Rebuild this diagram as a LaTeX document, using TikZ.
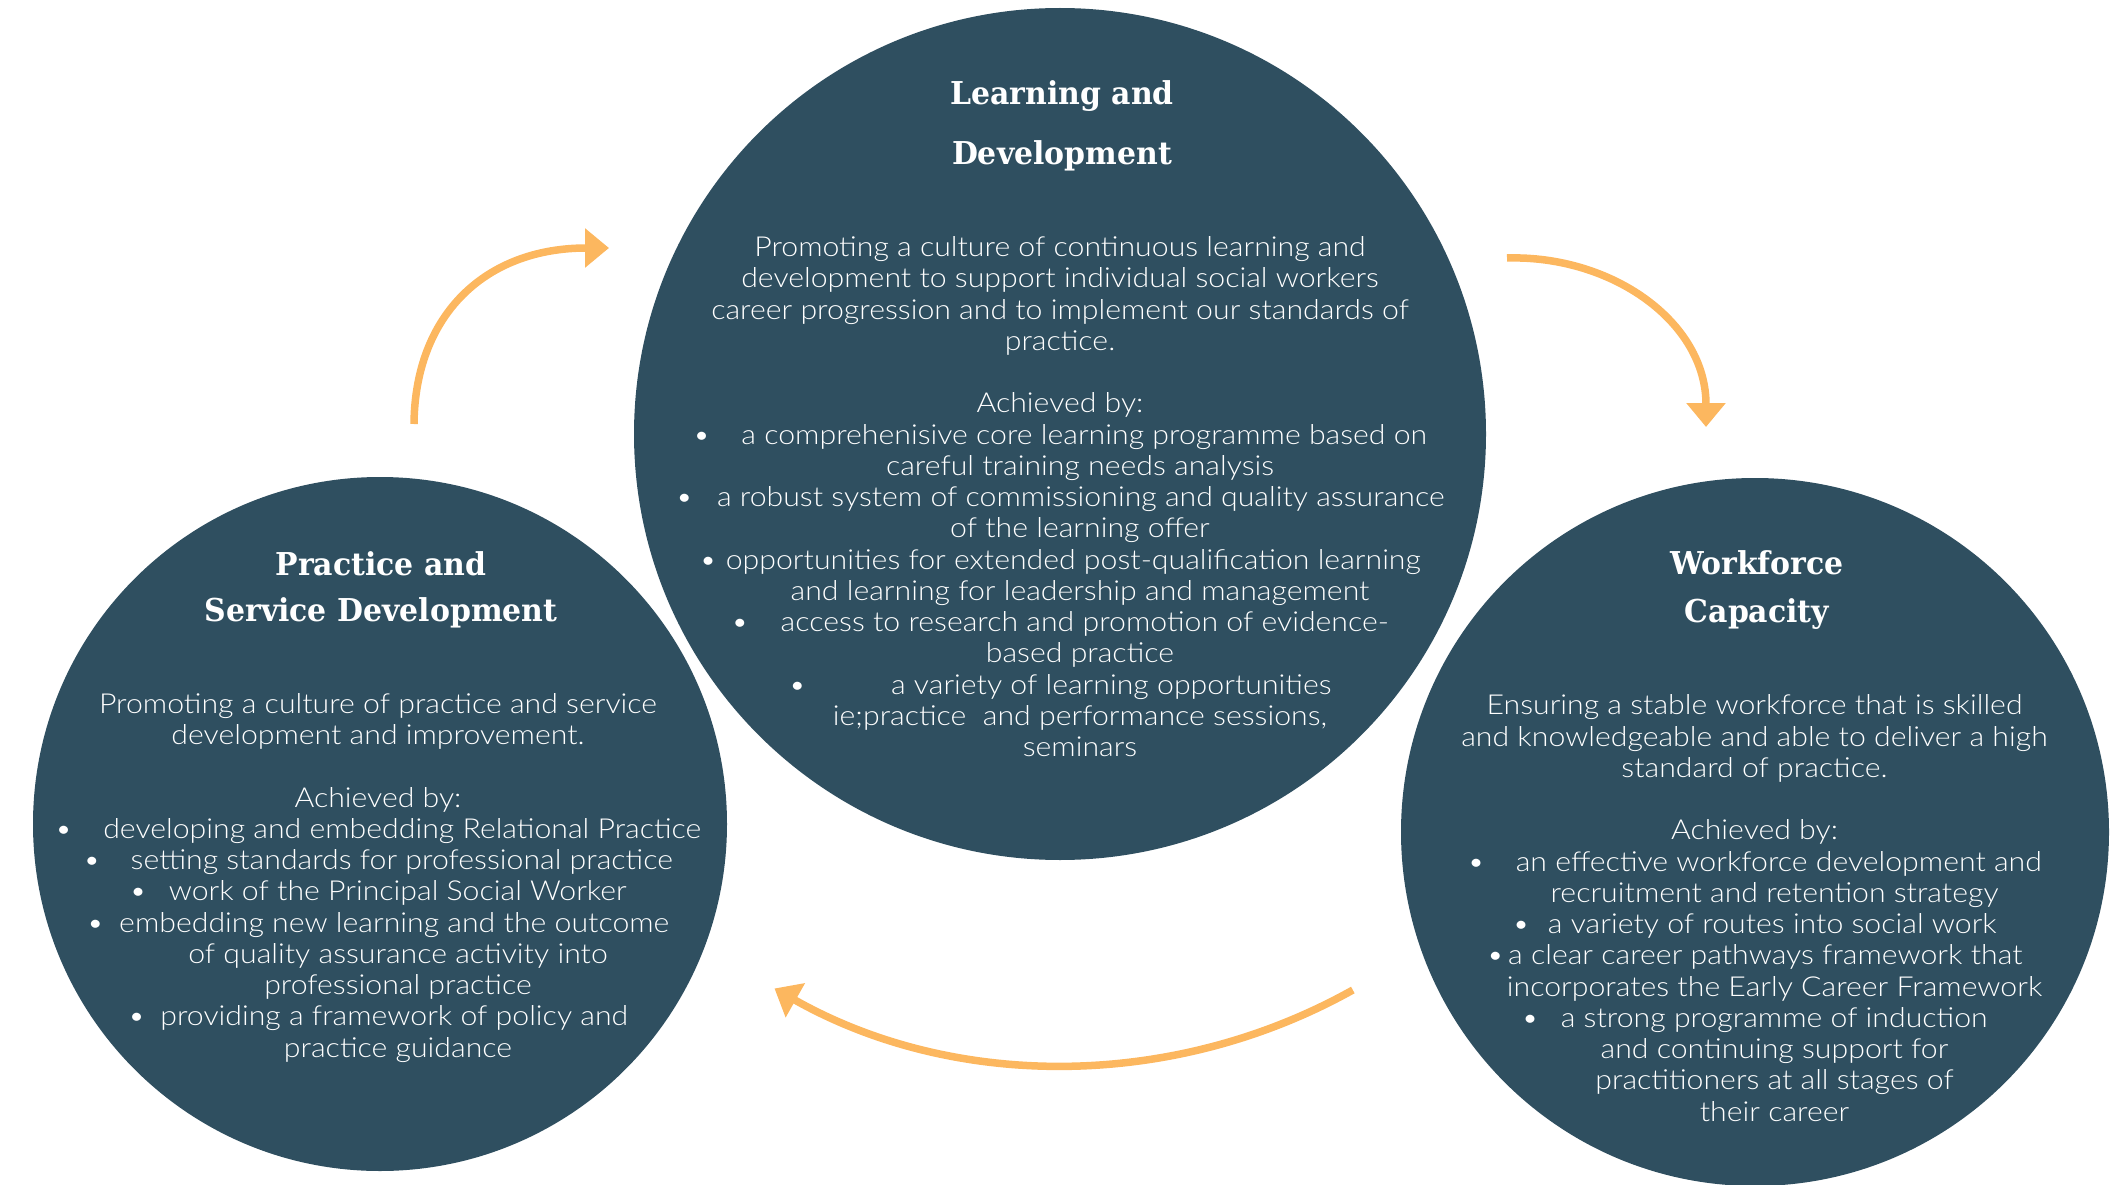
\documentclass[tikz,border=0pt]{standalone}
\usepackage{fontspec}
\usetikzlibrary{arrows.meta,calc}
\IfFontExistsTF{Lato Light}
  {\newfontfamily\bodyfont{Lato Light}[FakeStretch=1.1]}
  {\newfontfamily\bodyfont{Lato}[FakeStretch=1.1]}
\newfontfamily\headfont{DejaVu Serif}[FakeStretch=0.95]
\definecolor{circlefill}{RGB}{47,79,96}
\definecolor{cyclearrow}{RGB}{252,183,95}
% bullet followed by a gap of #1 points
\newcommand\bulgap[1]{\textbullet\hspace{#1pt}}
% wrapped continuation of a bullet item
\newcommand\wrapline{\hspace*{40pt}}
\begin{document}
\begin{tikzpicture}[x=1pt,y=-1pt,
  area/.style={circle,fill=circlefill,inner sep=0pt,minimum size=#1},
  heading/.style={text=white,align=center,anchor=base,inner sep=0pt,
    font=\headfont\bfseries\fontsize{31.5}{#1}\selectfont},
  bodytext/.style={text=white,align=center,anchor=base,inner sep=0pt,
    font=\bodyfont\fontsize{27.5}{31.25}\selectfont},
  cyclearr/.style={draw=cyclearrow,line width=7.5pt,
    -{Triangle[length=24pt,width=38pt]}}]
\useasboundingbox (0,0) rectangle (2113,1185);

% the three areas
\node[area=852pt] (ld) at (1060,434) {};
\node[area=694pt] (psd) at (380,824) {};
\node[area=708pt] (wc) at (1755,832) {};

% Learning and Development (nodes placed by the baseline of their last line)
\node[heading=60] (ldhead) at (1062,165) {Learning and\\Development};
\node[bodytext] (ldbody) at (1060,756.7) {%
Promoting a culture of continuous learning and\\
development to support individual social workers\\
career progression and to implement our standards of\\
practice.\\[31.25pt]
Achieved by:\\
\bulgap{31}a comprehenisive core learning programme based on\\
\wrapline careful training needs analysis\\
\bulgap{24}a robust system of commissioning and quality assurance\\
\wrapline of the learning offer\\
\bulgap{9}opportunities for extended post-qualification learning\\
\wrapline and learning for leadership and management\\
\bulgap{32}access to research and promotion of evidence-\\
\wrapline based practice\\
\bulgap{85}a variety of learning opportunities\\
\wrapline ie;practice\ \ and performance sessions,\\
\wrapline seminars};

% Practice and Service Development
\node[heading=46.7] (psdhead) at (381,621.7) {Practice and\\Service Development};
\node[bodytext] (psdbody) at (378,1057.2) {%
Promoting a culture of practice and service\\
development and improvement.\\[31.25pt]
Achieved by:\\
\bulgap{31}developing and embedding Relational Practice\\
\bulgap{30}setting standards for professional practice\\
\bulgap{22}work of the Principal Social Worker\\
\bulgap{15}embedding new learning and the outcome\\
\wrapline of quality assurance activity into\\
\wrapline professional practice\\
\bulgap{15}providing a framework of policy and\\
\wrapline practice guidance};

% Workforce Capacity
\node[heading=48] (wchead) at (1757,622.8) {Workforce\\Capacity};
\node[bodytext] (wcbody) at (1754.5,1121.1) {%
Ensuring a stable workforce that is skilled\\
and knowledgeable and able to deliver a high\\
standard of practice.\\[31.25pt]
Achieved by:\\
\bulgap{31}an effective workforce development and\\
\wrapline recruitment and retention strategy\\
\bulgap{18}a variety of routes into social work\\
\bulgap{4}a clear career pathways framework that\\
\wrapline incorporates the Early Career Framework\\
\bulgap{22}a strong programme of induction\\
\wrapline and continuing support for\\
\wrapline practitioners at all stages of\\
\wrapline their career};

% cycle arrows
\coordinate (a1s) at (414,424);
\coordinate (a1e) at (609,248);
\coordinate (a2s) at (1507,258);
\coordinate (a2e) at (1706,427);
\coordinate (a3c) at (1065,475);
\draw[cyclearr] (a1s) .. controls (415,315) and (485,248) .. (a1e);
\draw[cyclearr] (a2s) .. controls (1612,255) and (1706,322) .. (a2e);
\draw[cyclearr] ($(a3c)+(60.8:590)$) arc[start angle=60.8,end angle=119.5,radius=590];
\end{tikzpicture}
\end{document}
